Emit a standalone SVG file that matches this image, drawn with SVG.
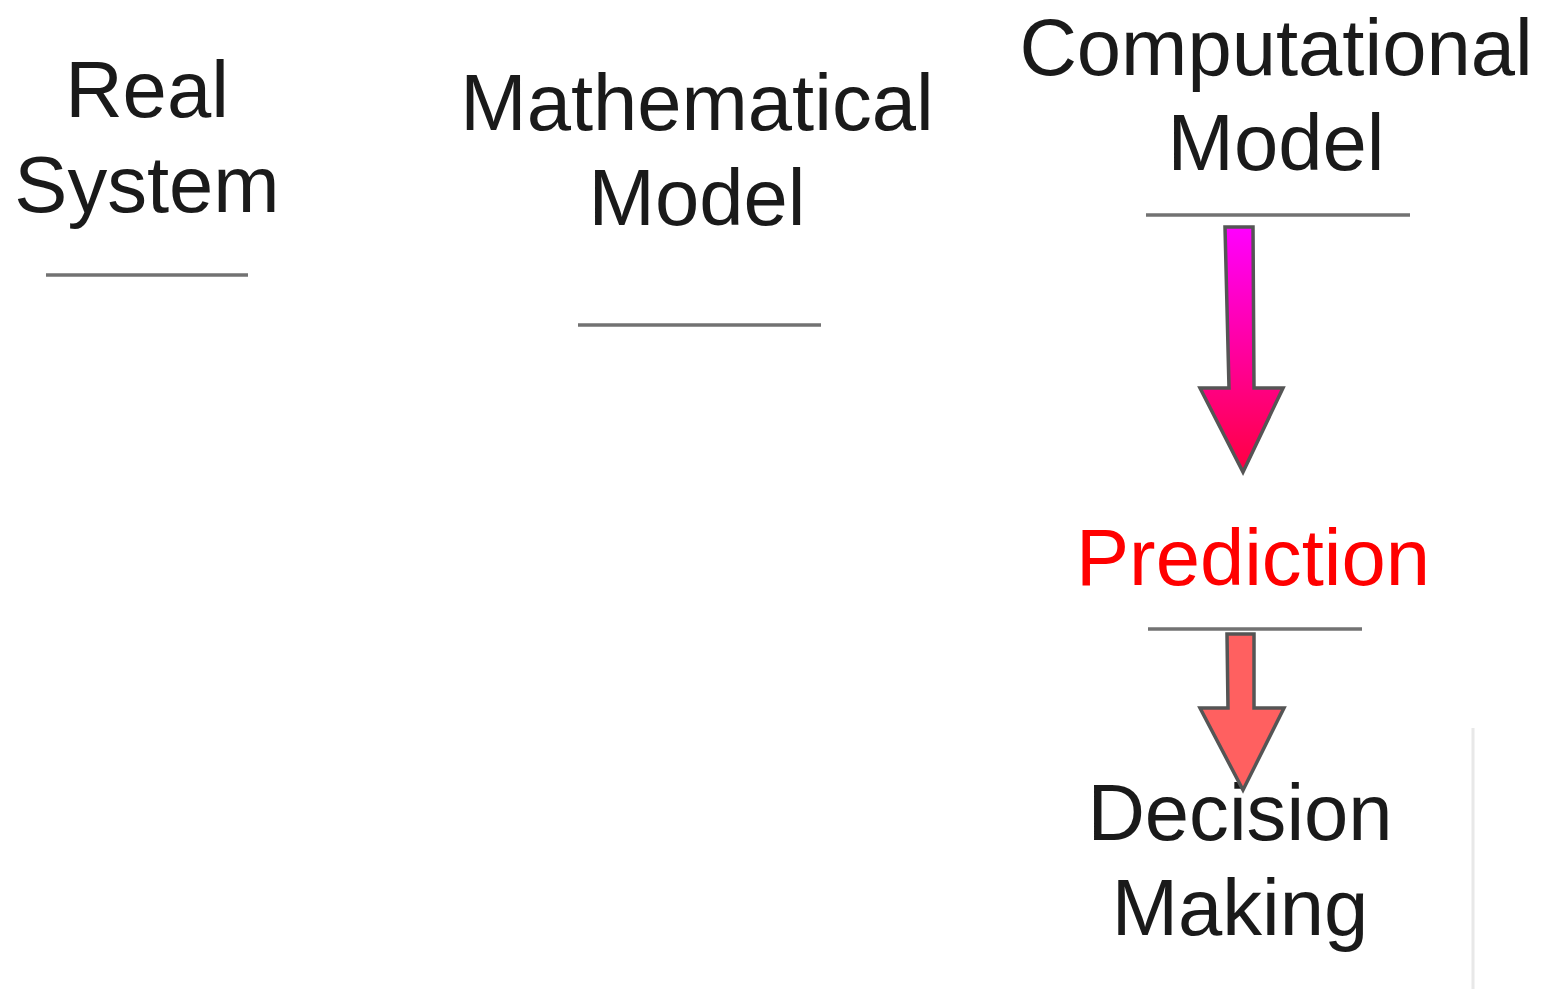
<svg xmlns="http://www.w3.org/2000/svg" width="1544" height="989" viewBox="0 0 1544 989">
<style>
.t{font-family:"Liberation Sans",Arial,sans-serif;font-size:79.6px;fill:#1a1a1a;text-anchor:middle}
.rule{stroke:#727272;stroke-width:3.5;fill:none}
.arr{stroke:#555555;stroke-width:3.5;stroke-linejoin:miter}
</style>
<defs>
<linearGradient id="g1" x1="0" y1="0" x2="0" y2="1">
<stop offset="0" stop-color="#ff00ff"/>
<stop offset="1" stop-color="#ff0040"/>
</linearGradient>
</defs>
<rect width="1544" height="989" fill="#ffffff"/>
<g id="real-system">
<text class="t" x="147" y="117">Real</text>
<text class="t" x="147" y="212">System</text>
<line class="rule" x1="46" y1="275" x2="248" y2="275"/>
</g>
<g id="mathematical-model">
<text class="t" x="697" y="130">Mathematical</text>
<text class="t" x="697" y="225">Model</text>
<line class="rule" x1="578" y1="325" x2="821" y2="325"/>
</g>
<g id="computational-model">
<text class="t" x="1276" y="75">Computational</text>
<text class="t" x="1276" y="170">Model</text>
<line class="rule" x1="1146" y1="215" x2="1410" y2="215"/>
</g>
<g id="prediction">
<text class="t" x="1253" y="585" style="fill:#ff0000">Prediction</text>
<line class="rule" x1="1148" y1="629" x2="1362" y2="629"/>
</g>
<g id="decision-making">
<text class="t" x="1240" y="840">Decision</text>
<text class="t" x="1240" y="935">Making</text>
</g>
<g id="connectors">
<polygon class="arr" fill="url(#g1)" points="1225,227 1253,227 1254,388 1283,388 1243,472 1200,388 1229,388"/>
<polygon class="arr" fill="#ff6060" points="1227,634 1254,634 1254,708 1284,708 1243,790 1200,708 1228,708"/>
</g>
<line x1="1473" y1="728" x2="1473" y2="989" stroke="#e8e8e8" stroke-width="3"/>
</svg>
